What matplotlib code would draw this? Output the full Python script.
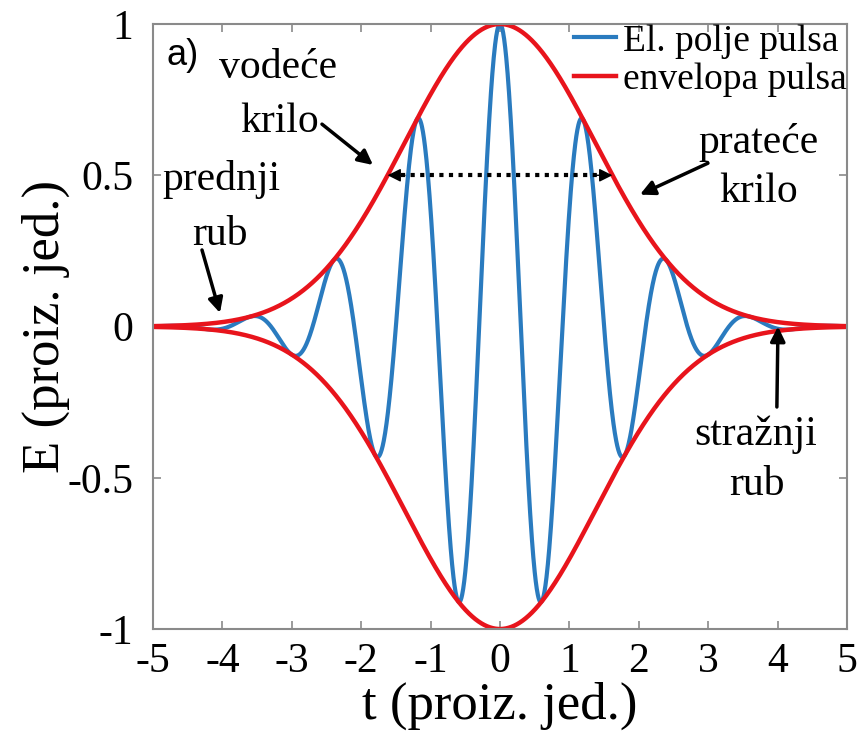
import numpy as np
import matplotlib
matplotlib.use('Agg')
import matplotlib.pyplot as plt

plt.rcParams['font.family'] = ['Liberation Serif', 'DejaVu Serif']
plt.rcParams['axes.unicode_minus'] = False

# values
t_start, t_end = -5, 5
half_max_t = 1.62          # envelope falls to 0.5 at t = +-1.62
carrier_period = 1.2       # field maxima at 0, +-1.2, +-2.4, +-3.6
x_ticks = [-5, -4, -3, -2, -1, 0, 1, 2, 3, 4, 5]
y_ticks = [-1, -0.5, 0, 0.5, 1]
y_tick_labels = ['-1', '-0.5', '0', '0.5', '1']
legend_labels = ['El. polje pulsa', 'envelopa pulsa']

sigma = half_max_t / np.sqrt(2 * np.log(2))
t = np.linspace(t_start, t_end, 2001)
envelope = np.exp(-t**2 / (2 * sigma**2))
field = envelope * np.cos(2 * np.pi * t / carrier_period)

fig = plt.figure(figsize=(8.61, 7.46), dpi=100)
ax = fig.add_axes([0.1777, 0.1568, 0.806, 0.811])

red = '#e8141c'
l1, = ax.plot(t, field, color='#2a7bbf', lw=3)
l2, = ax.plot(t, envelope, color=red, lw=3.2)
ax.plot(t, -envelope, color=red, lw=3.2)

ax.set_xlim(t_start, t_end)
ax.set_ylim(-1, 1)
ax.set_xticks(x_ticks)
ax.set_xticklabels([str(v) for v in x_ticks])
ax.set_yticks(y_ticks)
ax.set_yticklabels(y_tick_labels)
ax.tick_params(direction='in', length=6, width=1.2, colors='#8a8a8a',
               labelcolor='black', labelsize=30, top=True, right=True)
ax.tick_params(axis='x', pad=10)
ax.tick_params(axis='y', pad=14)
for s in ax.spines.values():
    s.set_color('#8a8a8a')
    s.set_linewidth(1.5)

ax.set_xlabel('t (proiz. jed.)', fontsize=38, labelpad=0)
ax.set_ylabel('E (proiz. jed.)', fontsize=38, labelpad=-2)

ax.legend([l1, l2], legend_labels, loc='upper right', frameon=False,
          fontsize=27, handlelength=1.1, handletextpad=0.2,
          borderaxespad=0.0, borderpad=0.0, labelspacing=0.1)

ax.text(-4.80, 0.895, 'a)', family='Liberation Sans', fontsize=26,
        va='center', ha='left')

fs = 30
ax.text(-3.20, 0.821, 'vodeće', fontsize=fs, ha='center', va='baseline')
ax.text(-3.18, 0.643, 'krilo', fontsize=fs, ha='center', va='baseline')
ax.text(-4.02, 0.451, 'prednji', fontsize=fs, ha='center', va='baseline')
ax.text(-4.03, 0.269, 'rub', fontsize=fs, ha='center', va='baseline')
ax.text(3.73, 0.574, 'prateće', fontsize=fs, ha='center', va='baseline')
ax.text(3.73, 0.412, 'krilo', fontsize=fs, ha='center', va='baseline')
ax.text(3.68, -0.392, 'stražnji', fontsize=fs, ha='center', va='baseline')
ax.text(3.70, -0.557, 'rub', fontsize=fs, ha='center', va='baseline')

arrow = dict(arrowstyle='-|>', color='black', lw=2.5, mutation_scale=22,
             shrinkA=0, shrinkB=0)
ax.annotate('', xy=(-1.83, 0.534), xytext=(-2.565, 0.669), arrowprops=arrow)
ax.annotate('', xy=(-4.035, 0.045), xytext=(-4.294, 0.253), arrowprops=arrow)
ax.annotate('', xy=(2.017, 0.436), xytext=(2.997, 0.54), arrowprops=arrow)
ax.annotate('', xy=(4.006, 0.0), xytext=(3.99, -0.266), arrowprops=arrow)

# dotted width marker at half maximum
ax.plot([-half_max_t + 0.2, half_max_t - 0.2], [0.5, 0.5], color='black',
        lw=3, linestyle=(0, (1, 1.3)))
head = dict(arrowstyle='-|>', color='black', lw=1, mutation_scale=20,
            shrinkA=0, shrinkB=0)
ax.annotate('', xy=(-half_max_t, 0.5), xytext=(-half_max_t + 0.25, 0.5),
            arrowprops=head)
ax.annotate('', xy=(half_max_t, 0.5), xytext=(half_max_t - 0.25, 0.5),
            arrowprops=head)

fig.savefig('out.png', dpi=100)
